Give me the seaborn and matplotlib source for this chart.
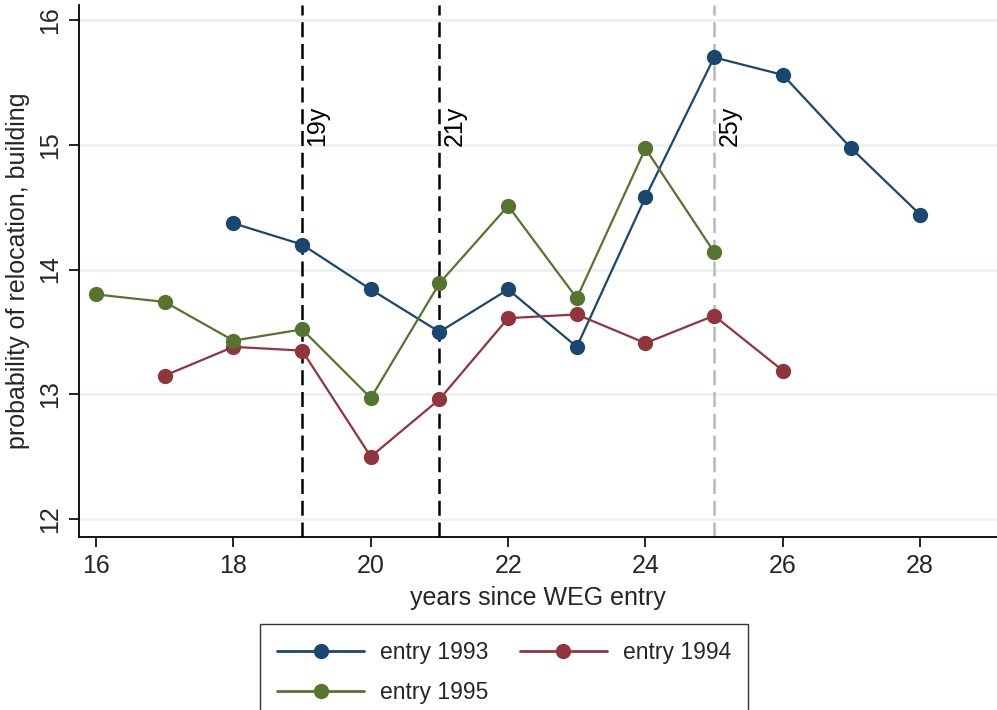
import matplotlib
matplotlib.use("Agg")
import matplotlib.pyplot as plt
import seaborn as sns
import pandas as pd

# Relocation probability by years since WEG entry, per entry cohort
years_1993 = [18, 19, 20, 21, 22, 23, 24, 25, 26, 27, 28]
prob_1993 = [14.37, 14.20, 13.84, 13.50, 13.84, 13.38, 14.58, 15.70, 15.56, 14.97, 14.44]

years_1994 = [17, 18, 19, 20, 21, 22, 23, 24, 25, 26]
prob_1994 = [13.15, 13.38, 13.35, 12.50, 12.96, 13.61, 13.64, 13.41, 13.63, 13.19]

years_1995 = [16, 17, 18, 19, 20, 21, 22, 23, 24, 25]
prob_1995 = [13.80, 13.74, 13.43, 13.52, 12.97, 13.89, 14.51, 13.77, 14.97, 14.14]

cohorts = ["entry 1993", "entry 1994", "entry 1995"]
colors = ["#1a476f", "#90353b", "#55752f"]

marker_years = [19, 21, 25]
marker_labels = ["19y", "21y", "25y"]
marker_colors = ["black", "black", "#b8b8b8"]

x_ticks = [16, 18, 20, 22, 24, 26, 28]
y_ticks = [12, 13, 14, 15, 16]

df = pd.concat([
    pd.DataFrame({"year": years_1993, "prob": prob_1993, "cohort": cohorts[0]}),
    pd.DataFrame({"year": years_1994, "prob": prob_1994, "cohort": cohorts[1]}),
    pd.DataFrame({"year": years_1995, "prob": prob_1995, "cohort": cohorts[2]}),
])

sns.set_style("white")
plt.rcParams["font.family"] = ["Liberation Sans", "DejaVu Sans"]

fig = plt.figure(figsize=(9.97, 7.10), dpi=100)
ax = fig.add_axes([79 / 997, 1 - 537 / 710, (997 - 79) / 997, (537 - 5) / 710])

ax.set_xlim(15.75, 29.12)
ax.set_ylim(11.856, 16.12)

# horizontal grid
for yv in y_ticks:
    ax.axhline(yv, color="#eaf2f3", lw=2, zorder=0)

# reference lines
for xv, lab, c in zip(marker_years, marker_labels, marker_colors):
    ax.axvline(xv, color=c, lw=1.8, dashes=(6, 2.7), zorder=1)
    ax.text(xv + 0.05, 14.99, lab, rotation=90, ha="left", va="bottom",
            fontsize=18, color="black", zorder=2)

sns.lineplot(data=df, x="year", y="prob", hue="cohort", hue_order=cohorts,
             palette=colors, marker="o", markersize=11, markeredgewidth=0,
             linewidth=1.6, ax=ax, legend=False, zorder=3)

ax.set_xticks(x_ticks)
ax.set_yticks(y_ticks)
ax.tick_params(axis="both", direction="out", length=7, width=1.2,
               color="black", labelsize=18, bottom=True, left=True, pad=5)
for lbl in ax.get_yticklabels():
    lbl.set_rotation(90)
    lbl.set_va("center")

ax.set_xlabel("years since WEG entry", fontsize=18, labelpad=6)
ax.set_ylabel("probability of relocation, building", fontsize=18, labelpad=6)

for side in ["top", "right"]:
    ax.spines[side].set_visible(False)
for side in ["left", "bottom"]:
    ax.spines[side].set_color("black")
    ax.spines[side].set_linewidth(1.3)

handles = [plt.Line2D([], [], color=c, lw=2, marker="o", markersize=11,
                      markeredgewidth=0) for c in colors]
# legend filled row by row: 1993, 1994 / 1995
order = [0, 2, 1]
leg = fig.legend([handles[i] for i in order], [cohorts[i] for i in order],
                 loc="upper center", bbox_to_anchor=(504 / 997, 1 - 624 / 710),
                 borderaxespad=0, ncol=2, fontsize=16.5, frameon=True,
                 fancybox=False, handlelength=3.8, handletextpad=0.7,
                 columnspacing=1.35, borderpad=0.75, labelspacing=0.75)
leg.get_frame().set_edgecolor("black")
leg.get_frame().set_linewidth(1.0)

fig.savefig("out.png", dpi=100)
